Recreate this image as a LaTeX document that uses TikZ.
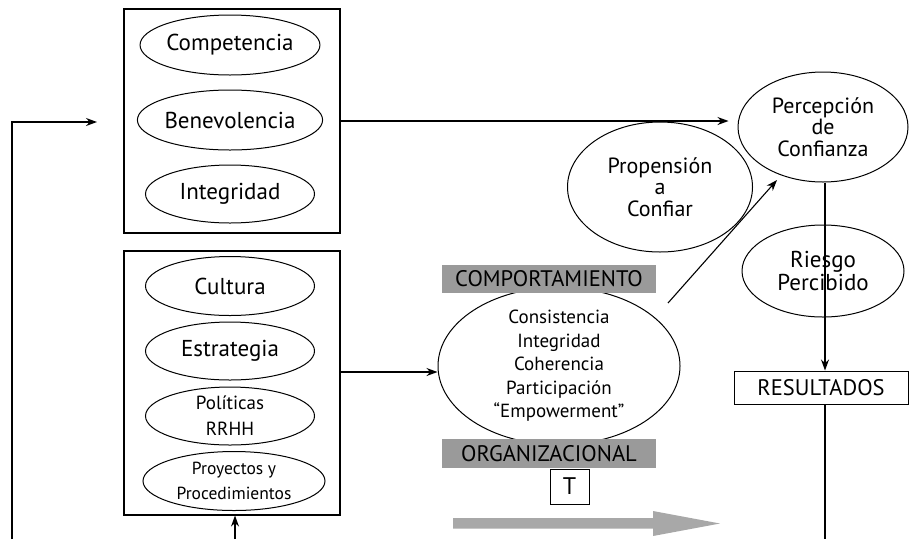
\documentclass[tikz,border=0pt]{standalone}
\usepackage{fontspec}
\setmainfont{PT Sans}
\usetikzlibrary{shapes.geometric,arrows.meta}
\definecolor{labgray}{HTML}{9A9A9A}
\definecolor{arrgray}{HTML}{A8A8A8}
\tikzset{
  oval/.style={ellipse,draw,line width=1pt,inner sep=0pt,align=center,font=\fontsize{23}{20.5}\selectfont},
  tri/.style={font=\fontsize{22}{21.5}\selectfont},
  frame/.style={draw,line width=1.1pt,inner sep=0pt},
  lab/.style={fill=labgray,inner sep=0pt,minimum width=214pt,minimum height=28pt,font=\fontsize{22.5}{22.5}\selectfont},
  conn/.style={line width=1.1pt,-{Stealth[length=11pt,width=8pt]}},
  plain/.style={line width=1.1pt}
}
\begin{document}
\begin{tikzpicture}[x=1pt,y=-1pt]
\useasboundingbox (0,0) rectangle (909,539);
% frames
\node[frame,minimum width=216pt,minimum height=224pt] (tb) at (232,121) {};
\node[frame,minimum width=216pt,minimum height=264pt] (bb) at (232,383) {};
% top ellipses
\node[oval,minimum width=169pt,minimum height=60pt] (comp) at (230,45) {Competencia};
\node[oval,minimum width=169pt,minimum height=60pt] (bene) at (230,120) {Benevolencia};
\node[oval,minimum width=169pt,minimum height=58pt] (inte) at (230,194) {Integridad};
% bottom ellipses
\node[oval,minimum width=169pt,minimum height=59pt] (cult) at (230,286) {Cultura};
\node[oval,minimum width=169pt,minimum height=58pt] (estr) at (230,351) {Estrategia};
\node[oval,minimum width=169pt,minimum height=58pt,font=\fontsize{19}{26}\selectfont] (poli) at (230,416) {Políticas\\RRHH};
\node[oval,minimum width=182pt,minimum height=59pt,font=\fontsize{17.5}{25}\selectfont] (proy) at (234,481) {Proyectos y\\Procedimientos};
% behaviour ellipse
\node[oval,minimum width=242pt,minimum height=133pt,font=\fontsize{19}{23.5}\selectfont] (beh) at (559,366) {Consistencia\\Integridad\\Coherencia\\Participación\\“Empowerment”};
% labels
\node[lab] (compo) at (549,278.5) {COMPORTAMIENTO};
\node[lab,minimum height=29pt] (orga) at (549,453.5) {ORGANIZACIONAL};
\node[draw,line width=1pt,minimum width=39pt,minimum height=35pt,inner sep=0pt,font=\fontsize{24}{24}\selectfont] (tbox) at (569.5,486.5) {T};
% right ellipses
\node[oval,tri,minimum width=185pt,minimum height=130pt] (prop) at (660,187) {Propensión\\a\\Confiar};
\node[oval,tri,minimum width=170pt,minimum height=110pt] (perc) at (823,127) {Percepción\\de\\Confianza};
\node[oval,minimum width=162pt,minimum height=92pt] (ries) at (823,271) {Riesgo\\Percibido};
\node[frame,line width=1pt,minimum width=174pt,minimum height=33pt,font=\fontsize{22.5}{22.5}\selectfont] (res) at (821,387.5) {RESULTADOS};
% coordinates
\coordinate (loopbot) at (12,539);
\coordinate (loopend) at (97,122);
\coordinate (bin) at (235,539);
\coordinate (bstart) at (668,303);
\coordinate (bend) at (777,180);
\coordinate (estout) at (340,372);
\coordinate (resbot) at (825,539);
% connectors
\draw[conn] (loopbot) |- (loopend);
\draw[conn] (bin) -- (bin |- bb.south);
\draw[conn] (tb.east) -- ([xshift=-9pt]tb.east -| perc.west);
\draw[conn] (estout) -- (estout -| beh.west);
\draw[conn] (bstart) -- (bend);
\draw[conn] (perc.south -| resbot) -- (res.north -| resbot);
\draw[plain] (res.south -| resbot) -- (resbot);
% big gray arrow
\fill[arrgray] (453,518) -- (653,518) -- (653,511) -- (720,523.5) -- (653,536) -- (653,528.5) -- (453,528.5) -- cycle;
\end{tikzpicture}
\end{document}
